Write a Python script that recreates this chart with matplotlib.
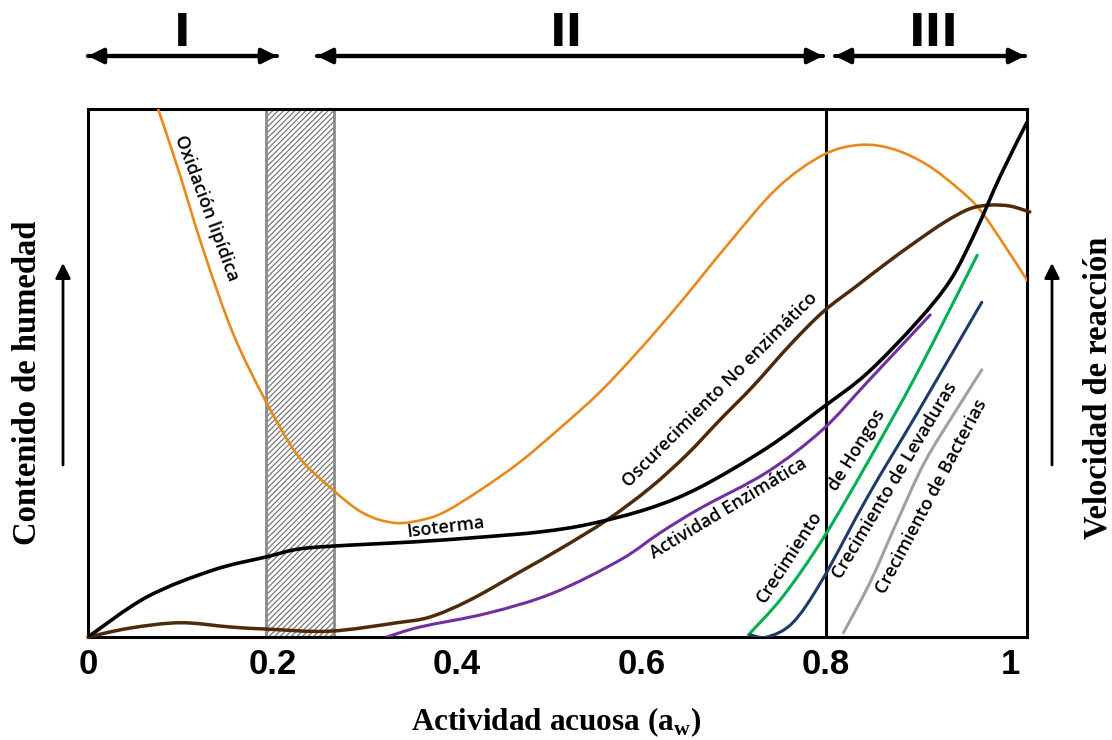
import numpy as np
import matplotlib.pyplot as plt
from matplotlib.patches import FancyArrowPatch, PathPatch
from matplotlib.path import Path

plt.rcParams['hatch.linewidth'] = 0.8
plt.rcParams['mathtext.fontset'] = 'custom'
plt.rcParams['mathtext.rm'] = 'Liberation Serif'
plt.rcParams['mathtext.bf'] = 'Liberation Serif:bold'

# water activity (x) and relative level (y, arbitrary units) for each curve
aw_oxid = [0.076, 0.097, 0.125, 0.157, 0.192, 0.227, 0.262, 0.298, 0.333, 0.365, 0.389, 0.425,
           0.468, 0.512, 0.555, 0.598, 0.642, 0.693, 0.747, 0.797, 0.837, 0.873, 0.910, 0.945,
           0.967, 0.992, 1.018]
oxidacion = [1.000, 0.890, 0.733, 0.576, 0.449, 0.345, 0.284, 0.235, 0.216, 0.223, 0.239, 0.278,
             0.331, 0.396, 0.464, 0.544, 0.633, 0.742, 0.850, 0.913, 0.932, 0.924, 0.894, 0.847,
             0.809, 0.746, 0.676]

aw_iso = [0.0, 0.064, 0.136, 0.194, 0.230, 0.284, 0.352, 0.425, 0.490, 0.544, 0.609, 0.664,
          0.736, 0.796, 0.845, 0.899, 0.935, 0.962, 0.989, 1.018]
isoterma = [0.0, 0.076, 0.127, 0.152, 0.167, 0.174, 0.180, 0.189, 0.199, 0.214, 0.244, 0.284,
            0.358, 0.434, 0.500, 0.597, 0.676, 0.767, 0.873, 0.975]

aw_osc = [0.0, 0.046, 0.100, 0.154, 0.194, 0.262, 0.335, 0.371, 0.414, 0.468, 0.512, 0.563,
          0.609, 0.649, 0.685, 0.721, 0.761, 0.797, 0.832, 0.864, 0.897, 0.929, 0.956, 0.978,
          1.000, 1.021]
oscurecimiento = [0.0, 0.017, 0.027, 0.019, 0.015, 0.011, 0.027, 0.038, 0.070, 0.123, 0.167,
                  0.222, 0.282, 0.345, 0.411, 0.475, 0.553, 0.616, 0.663, 0.706, 0.748, 0.786,
                  0.811, 0.818, 0.816, 0.805]

aw_enz = [0.324, 0.360, 0.433, 0.504, 0.577, 0.620, 0.664, 0.736, 0.796, 0.845, 0.913]
enzimatica = [0.0, 0.019, 0.045, 0.083, 0.146, 0.197, 0.244, 0.312, 0.392, 0.483, 0.610]

aw_hongos = [0.716, 0.753, 0.796, 0.845, 0.899, 0.964]
hongos = [0.004, 0.076, 0.184, 0.330, 0.500, 0.723]

aw_lev = [0.718, 0.736, 0.764, 0.796, 0.845, 0.899, 0.969]
levaduras = [0.004, 0.0, 0.027, 0.108, 0.265, 0.424, 0.634]

aw_bac = [0.819, 0.848, 0.878, 0.907, 0.940, 0.969]
bacterias = [0.008, 0.104, 0.222, 0.331, 0.426, 0.506]

zona_mono = (0.193, 0.267)   # shaded monolayer band
limite_zona = 0.8            # boundary between zones II and III
xticks = [0, 0.2, 0.4, 0.6, 0.8, 1.0]
xticklabels = ['0', '0.2', '0.4', '0.6', '0.8', '1']

W, H = 1112, 740
fig = plt.figure(figsize=(W / 100, H / 100), dpi=100)
ax = fig.add_axes([88 / W, 1 - 637 / H, (1027 - 88) / W, (637 - 109) / H])
ax.set_xlim(0, 1.018)
ax.set_ylim(0, 1)

for s in ax.spines.values():
    s.set_linewidth(2.2)
ax.set_yticks([])
ax.set_xticks(xticks)
ax.set_xticklabels(xticklabels, fontfamily='Liberation Sans', fontweight='bold', fontsize=25)
ax.tick_params(axis='x', length=0, pad=8)

# hatched band
ax.axvspan(*zona_mono, facecolor='white', edgecolor='#6a6a6a', hatch='//////', lw=0, zorder=1)
ax.axvspan(*zona_mono, facecolor='none', edgecolor='#8a8a8a', lw=2, zorder=1.5)
ax.axvline(limite_zona, color='black', lw=2.2, zorder=2)


def smooth_line(x, y, color, lw, zorder=3, clip=True):
    # cubic Bezier segments through the points (Catmull-Rom tangents)
    p = np.column_stack([x, y]).astype(float)
    q = np.vstack([p[0], p, p[-1]])
    verts = [tuple(p[0])]
    codes = [Path.MOVETO]
    for i in range(1, len(q) - 2):
        c1 = q[i] + (q[i + 1] - q[i - 1]) / 6
        c2 = q[i + 1] - (q[i + 2] - q[i]) / 6
        verts += [tuple(c1), tuple(c2), tuple(q[i + 1])]
        codes += [Path.CURVE4] * 3
    patch = PathPatch(Path(verts, codes), fill=False, edgecolor=color, lw=lw,
                      joinstyle='round', capstyle='round', zorder=zorder)
    ax.add_patch(patch)
    patch.set_clip_on(clip)


smooth_line(aw_oxid, oxidacion, '#E8891C', 1.9)
smooth_line(aw_osc, oscurecimiento, '#4E2A0A', 2.5, clip=False)
smooth_line(aw_enz, enzimatica, '#7030A0', 2.2)
smooth_line(aw_hongos, hongos, '#00B050', 2.2)
smooth_line(aw_lev, levaduras, '#1F3A6E', 2.2)
smooth_line(aw_bac, bacterias, '#A0A0A0', 2.2)
smooth_line(aw_iso, isoterma, 'black', 2.6, zorder=4)

lab = dict(fontfamily='Open Sans', fontweight='semibold', fontsize=13,
           ha='center', va='center', rotation_mode='anchor', zorder=5)
ax.text(0.128, 0.812, 'Oxidación lipídica', rotation=-69.5, **lab)
ax.text(0.388, 0.208, 'Isoterma', rotation=7, **lab)
ax.text(0.685, 0.468, 'Oscurecimiento No enzimático', rotation=45, **lab)
ax.text(0.694, 0.244, 'Actividad Enzimática', rotation=31, **lab)
ax.text(0.761, 0.152, 'Crecimiento', rotation=57, **lab)
ax.text(0.833, 0.354, 'de Hongos', rotation=58, **lab)
ax.text(0.875, 0.297, 'Crecimiento de Levaduras', rotation=59, **lab)
ax.text(0.915, 0.265, 'Crecimiento de Bacterias', rotation=62, **lab)


def fx(px):
    return px / W


def fy(py):
    return 1 - py / H


serif = dict(fontfamily='Liberation Serif', fontweight='bold', ha='center', va='center')
fig.text(fx(556), fy(722), r'Actividad acuosa (a$_\mathbf{w}$)', fontsize=22.5, **serif)
fig.text(fx(28), fy(383), 'Contenido de humedad', rotation=90, fontsize=23.5, **serif)
fig.text(fx(1098), fy(388), 'Velocidad de reacción', rotation=90, fontsize=23.5, **serif)


def arrow(x0, y0, x1, y1, lw, hl=9, hw=4.5):
    a = FancyArrowPatch((fx(x0), fy(y0)), (fx(x1), fy(y1)), transform=fig.transFigure,
                        arrowstyle=f'-|>,head_length={hl},head_width={hw}',
                        mutation_scale=1, lw=lw, color='black', shrinkA=0, shrinkB=0)
    fig.add_artist(a)


# double-headed zone arrows along the top
for xa, xb in [(88, 277), (317, 823), (835, 1025)]:
    arrow(xa, 56, xb, 56, 3)
    arrow(xb, 56, xa, 56, 3)

roman = dict(fontfamily='Liberation Sans Narrow', fontweight='bold', fontsize=32,
             ha='center', va='center')
fig.text(fx(182), fy(33), 'I', **roman)
fig.text(fx(567), fy(33), 'II', **roman)
fig.text(fx(934), fy(33), 'III', **roman)

# upward arrows beside the side labels
arrow(63, 465, 63, 263, 2)
arrow(1052, 465, 1052, 263, 2)

fig.savefig('out.png', dpi=100, facecolor='white')
